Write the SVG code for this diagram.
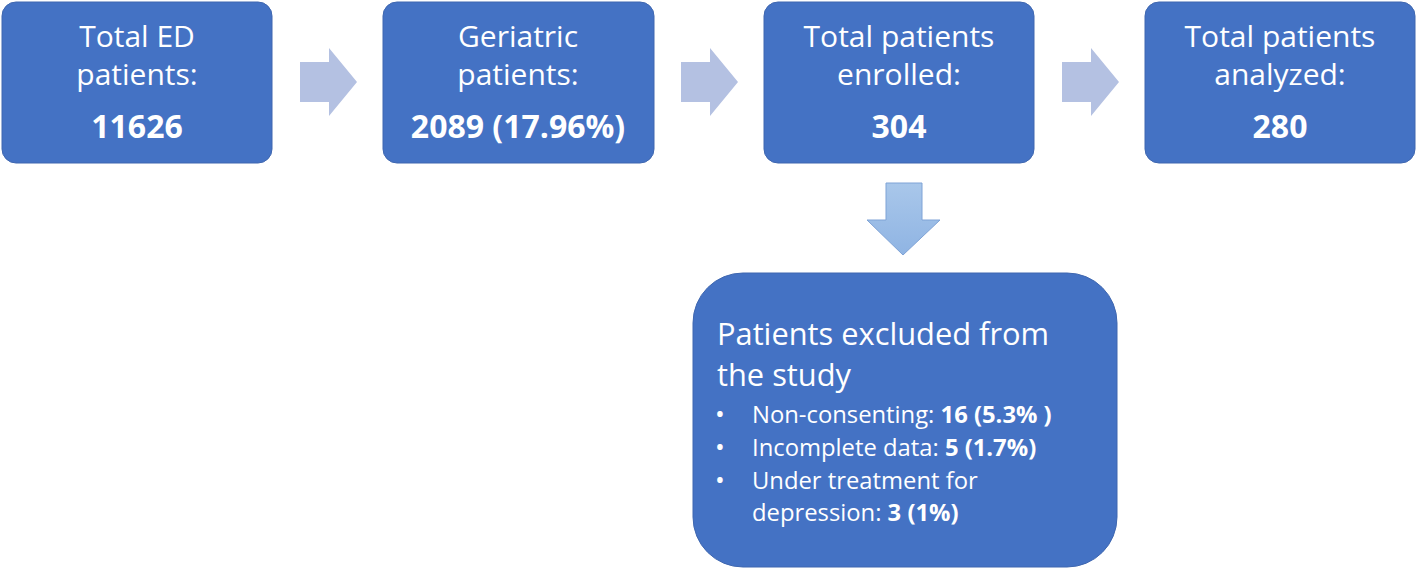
<svg xmlns="http://www.w3.org/2000/svg" width="1418" height="571" viewBox="0 0 1418 571">
<defs>
<style>
.box{fill:#4472C4;stroke:#3F67B0;stroke-width:1}
.t{font-family:"Open Sans","Liberation Sans",sans-serif;fill:#fff;font-size:30px;text-anchor:middle}
.n{font-size:32px}
.b{font-weight:bold}
.s{font-family:"Open Sans","Liberation Sans",sans-serif;fill:#fff;font-size:23.8px}
.h{font-size:30.8px}
.ra{fill:#B4C1E2}
</style>
<linearGradient id="dg" x1="0" y1="0" x2="0" y2="1">
<stop offset="0" stop-color="#A9C7EA"/>
<stop offset="1" stop-color="#8FB4E3"/>
</linearGradient>
</defs>
<rect width="1418" height="571" fill="#fff"/>
<g id="n1">
<rect class="box" x="2" y="2" width="270" height="161" rx="14"/>
<text class="t" x="137" y="47">Total ED</text>
<text class="t" x="137" y="85">patients:</text>
<text class="t b n" x="137" y="138">11626</text>
</g>
<g id="n2">
<rect class="box" x="383" y="2" width="271" height="161" rx="14"/>
<text class="t" x="518" y="47">Geriatric</text>
<text class="t" x="518" y="85">patients:</text>
<text class="t b n" x="518" y="138">2089 (17.96%)</text>
</g>
<g id="n3">
<rect class="box" x="764" y="2" width="270" height="161" rx="14"/>
<text class="t" x="899" y="47">Total patients</text>
<text class="t" x="899" y="85">enrolled:</text>
<text class="t b n" x="899" y="138">304</text>
</g>
<g id="n4">
<rect class="box" x="1145" y="2" width="270" height="161" rx="14"/>
<text class="t" x="1280" y="47">Total patients</text>
<text class="t" x="1280" y="85">analyzed:</text>
<text class="t b n" x="1280" y="138">280</text>
</g>
<g id="n5">
<rect class="box" x="693" y="273" width="424" height="294" rx="50"/>
<text class="s h" x="717" y="345">Patients excluded from</text>
<text class="s h" x="717" y="386">the study</text>
<text class="s" x="715" y="423"><tspan style="font-size:26px">•</tspan><tspan x="752">Non-consenting: </tspan><tspan class="b">16 (5.3% )</tspan></text>
<text class="s" x="715" y="456"><tspan style="font-size:26px">•</tspan><tspan x="752">Incomplete data: </tspan><tspan class="b">5 (1.7%)</tspan></text>
<text class="s" x="715" y="489"><tspan style="font-size:26px">•</tspan><tspan x="752">Under treatment for</tspan></text>
<text class="s" x="752" y="521">depression: <tspan class="b">3 (1%)</tspan></text>
</g>
<g id="connectors">
<path class="ra" d="M300 62 H329 V48 L357 82 L329 116 V102 H300 Z"/>
<path class="ra" d="M681 62 H710 V48 L738 82 L710 116 V102 H681 Z"/>
<path class="ra" d="M1062 62 H1091 V48 L1119 82 L1091 116 V102 H1062 Z"/>
<path d="M886 183 H922 V220 H940 L903 255 L867 220 H886 Z" fill="url(#dg)" stroke="#7FA3D6" stroke-width="1"/>
</g>
</svg>
